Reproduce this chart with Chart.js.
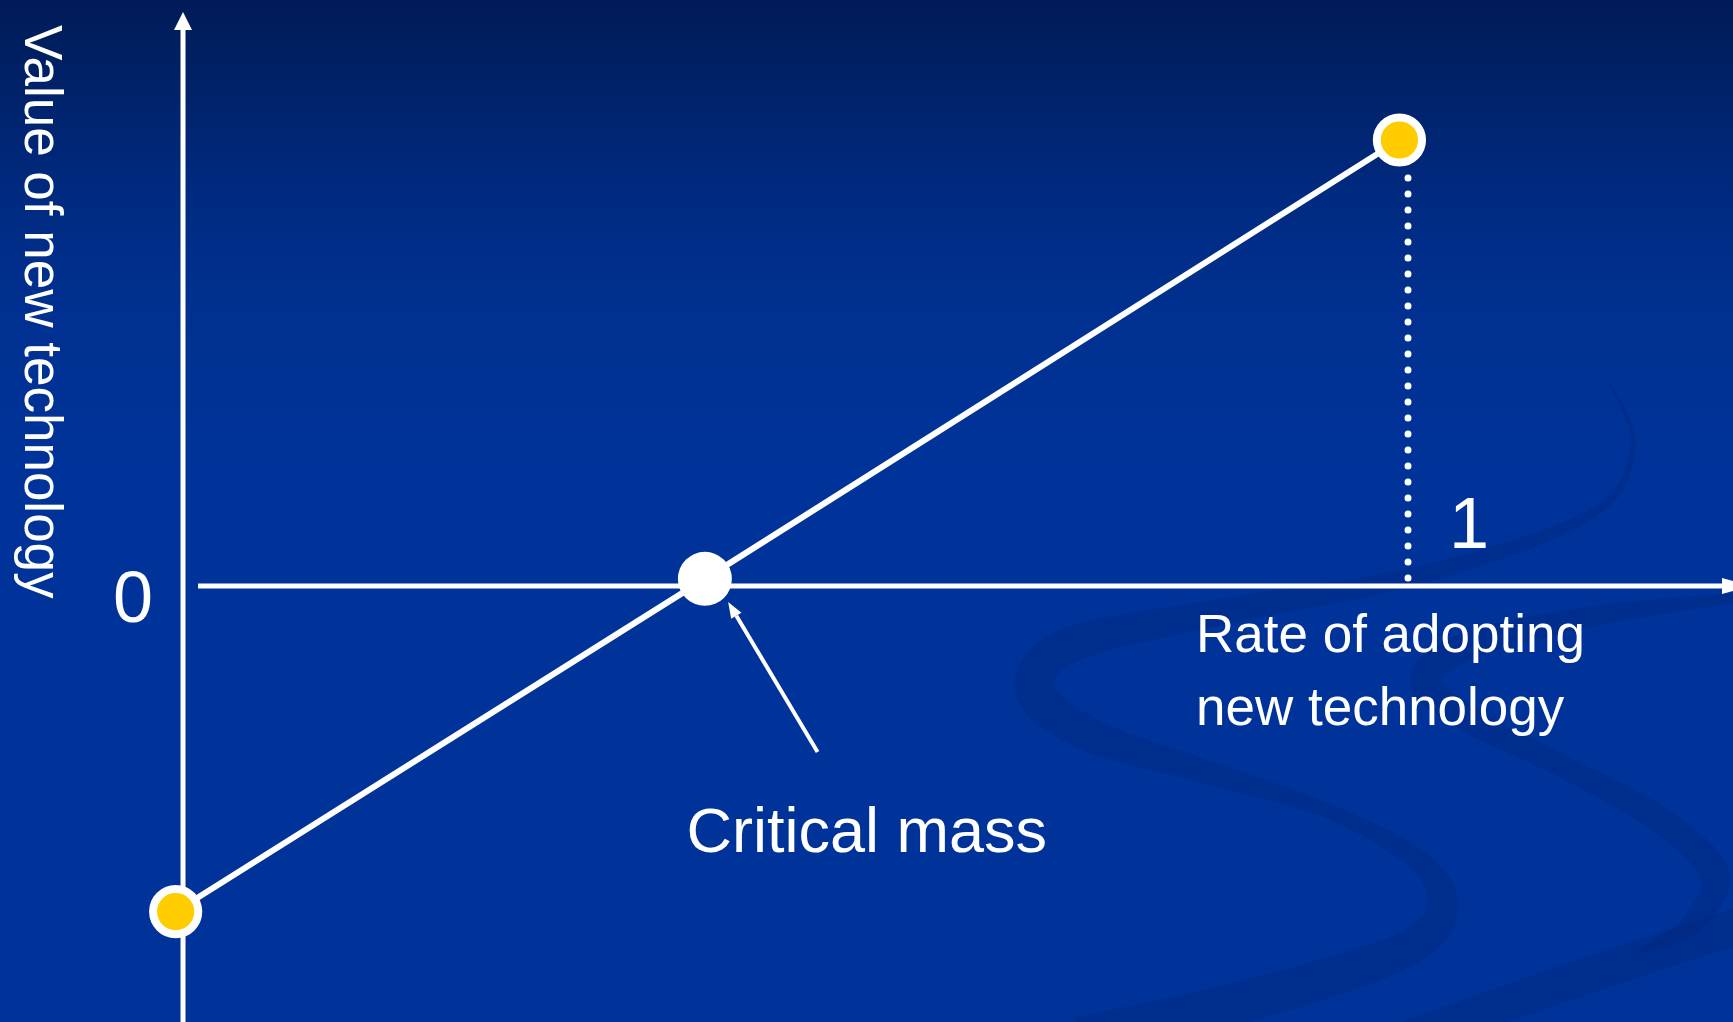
<!DOCTYPE html>
<html><head><meta charset="utf-8">
<script src="https://cdn.jsdelivr.net/npm/chart.js@4.4.1/dist/chart.umd.min.js"></script>
<style>
html,body{margin:0;padding:0;background:#003399;overflow:hidden}
#wrap{position:relative;width:1733px;height:1022px}
</style></head><body>
<div id="wrap"><canvas id="c"></canvas></div>
<script>
// ---- data ----
const curveX = [-0.006, 0.426, 0.993];      // rate of adopting new technology
const curveY = [-0.73, 0.016, 1.0];         // value of new technology
const dottedX = [1, 1];
const dottedY = [0.018, 0.915];
const tickValueX = [1];
const tickLabelX = ['1'];
const tickValueY = [0];
const tickLabelY = ['0'];
const arrowFrom = [0.518, -0.372];
const arrowTo = [0.445, -0.036];
const xTitleLines = ['Rate of adopting', 'new technology'];
const yTitle = 'Value of new technology';
const annotationText = 'Critical mass';
const xRange = [-0.1494, 1.2653];
const yRange = [-0.9776, 1.3139];

const FONT = '"Liberation Sans", Arial, Helvetica, sans-serif';
const YELLOW = '#FFCC00';

// decorative background swirl bands (pixel paths, widths)
const swirlA = [[1610,383,2],[1633,447,5],[1590,515,10],[1420,575,18],[1220,612,26],[1070,645,36],[1035,690,40],[1090,735,34],[1200,770,24],[1330,812,14],[1420,862,22],[1442,910,32],[1400,952,36],[1250,1000,42],[1080,1040,46]];
const swirlB = [[1745,597,8],[1600,615,20],[1470,645,28],[1425,680,30],[1470,720,26],[1560,765,22],[1660,820,26],[1715,875,30],[1690,925,20],[1640,952,3]];
const swirlC = [[1390,1045,36],[1560,985,36],[1750,922,36]];

function band(ctx, pts) {
  const samples = [];
  const n = pts.length;
  for (let i = 0; i < n - 1; i++) {
    const p0 = pts[Math.max(0, i - 1)], p1 = pts[i], p2 = pts[i + 1], p3 = pts[Math.min(n - 1, i + 2)];
    for (let s = 0; s < 20; s++) {
      const t = s / 20, t2 = t * t, t3 = t2 * t;
      const cr = (a, b, c, d) => 0.5 * ((2 * b) + (-a + c) * t + (2 * a - 5 * b + 4 * c - d) * t2 + (-a + 3 * b - 3 * c + d) * t3);
      samples.push([cr(p0[0], p1[0], p2[0], p3[0]), cr(p0[1], p1[1], p2[1], p3[1]), p1[2] + (p2[2] - p1[2]) * t]);
    }
  }
  samples.push(pts[n - 1]);
  const left = [], right = [];
  for (let i = 0; i < samples.length; i++) {
    const a = samples[Math.max(0, i - 1)], b = samples[Math.min(samples.length - 1, i + 1)];
    let dx = b[0] - a[0], dy = b[1] - a[1];
    const L = Math.hypot(dx, dy) || 1;
    const nx = -dy / L, ny = dx / L, h = samples[i][2] / 2;
    left.push([samples[i][0] + nx * h, samples[i][1] + ny * h]);
    right.push([samples[i][0] - nx * h, samples[i][1] - ny * h]);
  }
  ctx.beginPath();
  ctx.moveTo(left[0][0], left[0][1]);
  left.forEach(p => ctx.lineTo(p[0], p[1]));
  right.reverse().forEach(p => ctx.lineTo(p[0], p[1]));
  ctx.closePath();
  ctx.fill();
}

const bgPlugin = {
  id: 'bg',
  beforeDraw(chart) {
    const {ctx, width, height} = chart;
    ctx.save();
    const g = ctx.createLinearGradient(0, 0, 0, height);
    g.addColorStop(0, '#001b57');
    g.addColorStop(0.1, '#00236c');
    g.addColorStop(0.2, '#002b82');
    g.addColorStop(0.32, '#003192');
    g.addColorStop(0.45, '#003399');
    g.addColorStop(1, '#003399');
    ctx.fillStyle = g;
    ctx.fillRect(0, 0, width, height);
    ctx.fillStyle = 'rgba(0,30,110,0.25)';
    band(ctx, swirlA);
    band(ctx, swirlB);
    band(ctx, swirlC);
    ctx.restore();
  },
  beforeDatasetsDraw(chart) {
    const {ctx, width, height} = chart;
    const xs = chart.scales.x, ys = chart.scales.y;
    const x0 = xs.getPixelForValue(0), y0 = ys.getPixelForValue(0);
    ctx.save();
    ctx.strokeStyle = '#fff';
    ctx.fillStyle = '#fff';
    ctx.lineWidth = 5;
    // y axis
    ctx.beginPath();
    ctx.moveTo(x0, height);
    ctx.lineTo(x0, 28);
    ctx.stroke();
    ctx.beginPath();
    ctx.moveTo(x0, 12);
    ctx.lineTo(x0 - 9, 30);
    ctx.lineTo(x0 + 9, 30);
    ctx.closePath();
    ctx.fill();
    // x axis
    ctx.beginPath();
    ctx.moveTo(x0 + 15, y0);
    ctx.lineTo(width - 8, y0);
    ctx.stroke();
    ctx.beginPath();
    ctx.moveTo(width + 18, y0);
    ctx.lineTo(width - 11, y0 - 8);
    ctx.lineTo(width - 11, y0 + 8);
    ctx.closePath();
    ctx.fill();
    ctx.restore();
  },
  afterDatasetsDraw(chart) {
    const {ctx} = chart;
    const xs = chart.scales.x, ys = chart.scales.y;
    const x0 = xs.getPixelForValue(0), y0 = ys.getPixelForValue(0);
    ctx.save();
    ctx.fillStyle = '#fff';
    ctx.strokeStyle = '#fff';
    // annotation arrow
    const ax1 = xs.getPixelForValue(arrowFrom[0]), ay1 = ys.getPixelForValue(arrowFrom[1]);
    const ax2 = xs.getPixelForValue(arrowTo[0]), ay2 = ys.getPixelForValue(arrowTo[1]);
    const ang = Math.atan2(ay2 - ay1, ax2 - ax1);
    const hl = 16, hw = 6;
    const bx = ax2 - hl * Math.cos(ang), by = ay2 - hl * Math.sin(ang);
    ctx.lineWidth = 4;
    ctx.beginPath();
    ctx.moveTo(ax1, ay1);
    ctx.lineTo(bx, by);
    ctx.stroke();
    ctx.beginPath();
    ctx.moveTo(ax2, ay2);
    ctx.lineTo(bx + hw * Math.sin(ang), by - hw * Math.cos(ang));
    ctx.lineTo(bx - hw * Math.sin(ang), by + hw * Math.cos(ang));
    ctx.closePath();
    ctx.fill();
    // texts
    ctx.textBaseline = 'alphabetic';
    ctx.font = '72px ' + FONT;
    ctx.textAlign = 'right';
    tickValueY.forEach((v, i) => ctx.fillText(tickLabelY[i], x0 - 30, ys.getPixelForValue(v) + 36));
    ctx.textAlign = 'left';
    tickValueX.forEach((v, i) => ctx.fillText(tickLabelX[i], xs.getPixelForValue(v) + 41, y0 - 38));
    ctx.font = '53px ' + FONT;
    const x1 = xs.getPixelForValue(1);
    xTitleLines.forEach((t, i) => ctx.fillText(t, x1 - 212, y0 + 66 + i * 73));
    ctx.font = '63px ' + FONT;
    ctx.fillText(annotationText, ax1 - 131, ay1 + 100);
    // y title, rotated clockwise
    ctx.font = '53px ' + FONT;
    ctx.translate(x0 - 158, 25);
    ctx.rotate(Math.PI / 2);
    ctx.fillText(yTitle, 0, 0);
    ctx.restore();
  }
};

new Chart(document.getElementById('c'), {
  type: 'scatter',
  data: {
    datasets: [
      {
        data: curveX.map((x, i) => ({x, y: curveY[i]})),
        showLine: true,
        borderColor: '#fff',
        borderWidth: 6,
        tension: 0,
        pointRadius: [22.6, 27, 22.6],
        pointHoverRadius: [22.6, 27, 22.6],
        pointBackgroundColor: [YELLOW, '#fff', YELLOW],
        pointBorderColor: '#fff',
        pointBorderWidth: [8, 0, 8],
        pointHoverBorderWidth: [8, 0, 8],
        clip: false
      },
      {
        data: dottedX.map((x, i) => ({x, y: dottedY[i]})),
        showLine: true,
        borderColor: '#fff',
        borderWidth: 7,
        borderDash: [0.001, 16],
        borderCapStyle: 'round',
        pointRadius: 0,
        pointHoverRadius: 0
      }
    ]
  },
  options: {
    responsive: true,
    maintainAspectRatio: false,
    animation: false,
    events: [],
    layout: {padding: 0, autoPadding: false},
    plugins: {legend: {display: false}, tooltip: {enabled: false}},
    scales: {
      x: {type: 'linear', min: xRange[0], max: xRange[1], display: false},
      y: {type: 'linear', min: yRange[0], max: yRange[1], display: false}
    }
  },
  plugins: [bgPlugin]
});
</script>
</body></html>
